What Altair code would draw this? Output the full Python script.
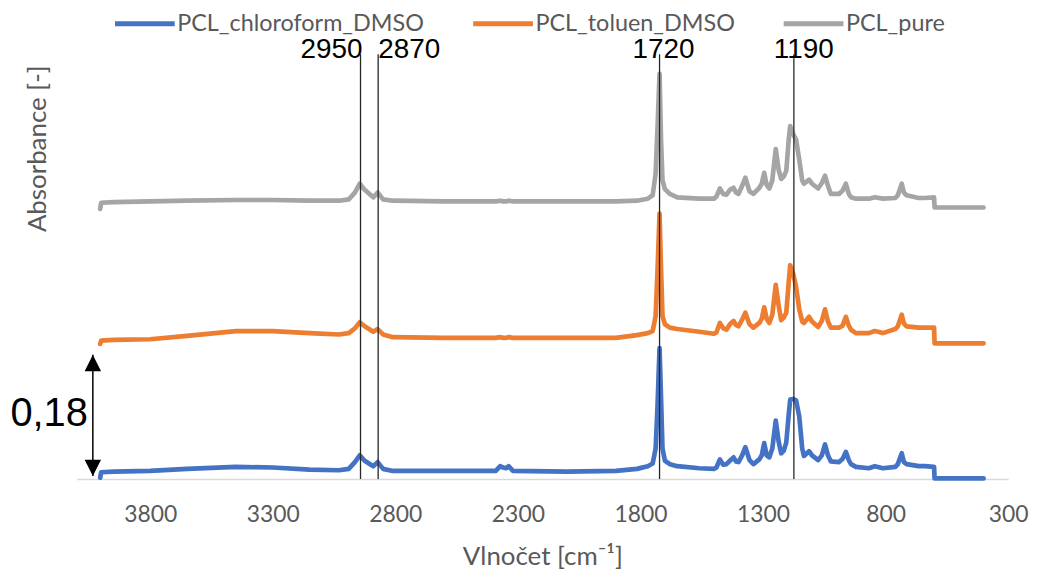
import altair as alt
import pandas as pd

# ---- data ----
wavenumber = [4004, 4000, 3950, 3800, 3650, 3450, 3300, 3150, 3030, 2990,
              2965, 2945, 2925, 2890, 2872, 2850, 2810, 2600, 2390, 2372,
              2360, 2348, 2338, 2320, 2100, 1900, 1814, 1770, 1750, 1738,
              1730, 1722, 1716, 1710, 1700, 1680, 1650, 1560, 1500, 1490,
              1476, 1462, 1449, 1435, 1420, 1410, 1400, 1385, 1372, 1355,
              1339, 1315, 1305, 1295, 1285, 1274, 1262, 1248, 1236, 1226,
              1215, 1205, 1195, 1189, 1177, 1165, 1152, 1140, 1133, 1112,
              1100, 1075, 1060, 1047, 1035, 1023, 990, 975, 962, 950,
              941, 921, 868, 844, 811, 760, 750, 734, 725, 714,
              665, 640, 602, 600, 400]

chloroform = [0.002, 0.010, 0.011, 0.012, 0.015, 0.018, 0.017, 0.014, 0.013, 0.015,
              0.025, 0.035, 0.027, 0.019, 0.025, 0.015, 0.012, 0.012, 0.012, 0.019,
              0.017, 0.016, 0.019, 0.012, 0.011, 0.012, 0.015, 0.019, 0.023, 0.045,
              0.110, 0.193, 0.120, 0.045, 0.027, 0.022, 0.019, 0.016, 0.015, 0.017,
              0.029, 0.021, 0.022, 0.027, 0.032, 0.026, 0.025, 0.035, 0.047, 0.028,
              0.022, 0.029, 0.035, 0.053, 0.035, 0.032, 0.045, 0.086, 0.055, 0.038,
              0.042, 0.054, 0.095, 0.117, 0.118, 0.116, 0.092, 0.045, 0.034, 0.041,
              0.035, 0.028, 0.035, 0.051, 0.035, 0.026, 0.025, 0.030, 0.040, 0.028,
              0.022, 0.018, 0.016, 0.019, 0.016, 0.018, 0.022, 0.038, 0.025, 0.022,
              0.019, 0.019, 0.018, 0.001, 0.001]

toluen = [0.199, 0.204, 0.205, 0.206, 0.211, 0.218, 0.218, 0.215, 0.213, 0.215,
          0.222, 0.231, 0.225, 0.217, 0.221, 0.213, 0.209, 0.208, 0.208, 0.209,
          0.208, 0.208, 0.209, 0.208, 0.208, 0.208, 0.212, 0.215, 0.218, 0.240,
          0.310, 0.391, 0.310, 0.240, 0.228, 0.223, 0.221, 0.217, 0.214, 0.216,
          0.230, 0.222, 0.220, 0.228, 0.233, 0.227, 0.225, 0.235, 0.245, 0.228,
          0.223, 0.230, 0.236, 0.253, 0.236, 0.230, 0.242, 0.286, 0.255, 0.234,
          0.238, 0.245, 0.290, 0.315, 0.303, 0.283, 0.250, 0.232, 0.230, 0.239,
          0.232, 0.224, 0.233, 0.250, 0.232, 0.223, 0.223, 0.226, 0.239, 0.226,
          0.220, 0.215, 0.215, 0.218, 0.215, 0.221, 0.225, 0.242, 0.229, 0.225,
          0.223, 0.223, 0.223, 0.200, 0.200]

pure = [0.398, 0.407, 0.408, 0.409, 0.410, 0.411, 0.411, 0.410, 0.410, 0.412,
        0.422, 0.435, 0.426, 0.415, 0.422, 0.412, 0.410, 0.409, 0.409, 0.410,
        0.409, 0.409, 0.410, 0.409, 0.409, 0.409, 0.410, 0.413, 0.418, 0.450,
        0.520, 0.597, 0.500, 0.440, 0.427, 0.420, 0.415, 0.413, 0.413, 0.416,
        0.428, 0.420, 0.419, 0.426, 0.429, 0.422, 0.420, 0.432, 0.444, 0.424,
        0.420, 0.429, 0.435, 0.451, 0.433, 0.428, 0.440, 0.486, 0.455, 0.442,
        0.446, 0.454, 0.500, 0.520, 0.508, 0.500, 0.470, 0.440, 0.435, 0.441,
        0.435, 0.428, 0.436, 0.447, 0.432, 0.420, 0.420, 0.425, 0.435, 0.420,
        0.415, 0.413, 0.413, 0.415, 0.413, 0.414, 0.418, 0.435, 0.422, 0.418,
        0.414, 0.414, 0.415, 0.400, 0.400]

series_names = ["PCL_chloroform_DMSO", "PCL_toluen_DMSO", "PCL_pure"]
series_colors = ["#4472C4", "#ED7D31", "#A5A5A5"]

x_ticks = [3800, 3300, 2800, 2300, 1800, 1300, 800, 300]

peak_positions = [2942, 2870, 1722, 1174]
peak_labels = ["2950", "2870", "1720", "1190"]

scale_bar_x = [4034]
scale_bar_bottom = [0.0044]
scale_bar_top = [0.183]
scale_bar_mid = [0.096]
scale_bar_label = ["0,18"]

# ---- tables ----
rows = []
for name, vals in zip(series_names, [chloroform, toluen, pure]):
    for i, (w, a) in enumerate(zip(wavenumber, vals)):
        rows.append({"series": name, "wn": w, "abs": a, "idx": i})
df = pd.DataFrame(rows)

peaks = pd.DataFrame({"wn": peak_positions, "label": peak_labels})
bar = pd.DataFrame({"wn": scale_bar_x, "y0": scale_bar_bottom, "y1": scale_bar_top,
                    "ym": scale_bar_mid, "label": scale_bar_label})

W, H = 936, 423
x_scale = alt.Scale(domain=[300, 4100], reverse=True, nice=False, zero=False)
y_scale = alt.Scale(domain=[0, 0.62], nice=False, zero=False)

x_axis = alt.Axis(values=x_ticks, title="Vlnočet [cm⁻¹]", ticks=False, grid=False,
                  domainColor="#D9D9D9", domainWidth=1.5,
                  labelFont="Lato", labelFontSize=23, labelColor="#595959",
                  labelPadding=25, format="d", labelFlush=False, labelOverlap=False,
                  titleFont="Lato", titleFontSize=26, titleFontWeight="normal",
                  titleColor="#595959", titleY=86, titleBaseline="alphabetic")
y_axis = alt.Axis(title="Absorbance [-]", labels=False, ticks=False, domain=False, grid=False,
                  titleFont="Lato", titleFontSize=26, titleFontWeight="normal",
                  titleColor="#595959", titleX=-39, titleY=90.5, titleAngle=270,
                  titleAlign="center", titleBaseline="middle")

lines = alt.Chart(df).mark_line(strokeWidth=4.7, strokeJoin="round", strokeCap="round").encode(
    x=alt.X("wn:Q", scale=x_scale, axis=x_axis),
    y=alt.Y("abs:Q", scale=y_scale, axis=y_axis),
    color=alt.Color("series:N",
                    scale=alt.Scale(domain=series_names, range=series_colors),
                    legend=alt.Legend(title=None, orient="none", legendX=36, legendY=-67,
                                      direction="horizontal", symbolType="stroke",
                                      symbolSize=3600, symbolStrokeWidth=5,
                                      labelFont="Lato", labelFontSize=23.5,
                                      labelColor="#595959", labelOffset=0,
                                      labelLimit=500, symbolLimit=0,
                                      columnPadding=38, padding=0)),
    order="idx:Q",
)

peak_rules = alt.Chart(peaks).mark_rule(color="#262626", strokeWidth=1.3).encode(
    x=alt.X("wn:Q", scale=x_scale), y=alt.value(-4), y2=alt.value(H)
)

def peak_text(label, align, dx):
    return alt.Chart(peaks).transform_filter(alt.datum.label == label).mark_text(
        font="Liberation Sans", fontSize=28, color="black", align=align,
        baseline="alphabetic", dx=dx
    ).encode(x=alt.X("wn:Q", scale=x_scale), y=alt.value(0), text="label:N")

t1 = peak_text("2950", "right", 2)
t2 = peak_text("2870", "left", 0)
t3 = peak_text("1720", "center", 4)
t4 = peak_text("1190", "center", 10)

bar_rule = alt.Chart(bar).mark_rule(color="black", strokeWidth=1.5).encode(
    x=alt.X("wn:Q", scale=x_scale), y=alt.Y("y0:Q", scale=y_scale), y2="y1:Q"
)
head_top = alt.Chart(bar).mark_point(shape="M0,0L-1,2L1,2Z", filled=True, size=272,
                                     color="black", opacity=1).encode(
    x=alt.X("wn:Q", scale=x_scale), y=alt.Y("y1:Q", scale=y_scale)
)
head_bot = alt.Chart(bar).mark_point(shape="M0,0L-1,-2L1,-2Z", filled=True, size=272,
                                     color="black", opacity=1).encode(
    x=alt.X("wn:Q", scale=x_scale), y=alt.Y("y0:Q", scale=y_scale)
)
bar_text = alt.Chart(bar).mark_text(font="Liberation Sans", fontSize=40, color="black",
                                    align="right", baseline="middle", dx=-5).encode(
    x=alt.X("wn:Q", scale=x_scale), y=alt.Y("ym:Q", scale=y_scale), text="label:N"
)

chart = alt.layer(lines, peak_rules, t1, t2, t3, t4, bar_rule, head_top, head_bot, bar_text).properties(
    width=W, height=H,
    padding={"left": 69, "top": 49, "right": 22, "bottom": 92},
    autosize=alt.AutoSizeParams(type="none"),
    background="white",
).configure_view(stroke=None)

chart.save("out.html", embed_options={"renderer": "svg", "actions": False})
